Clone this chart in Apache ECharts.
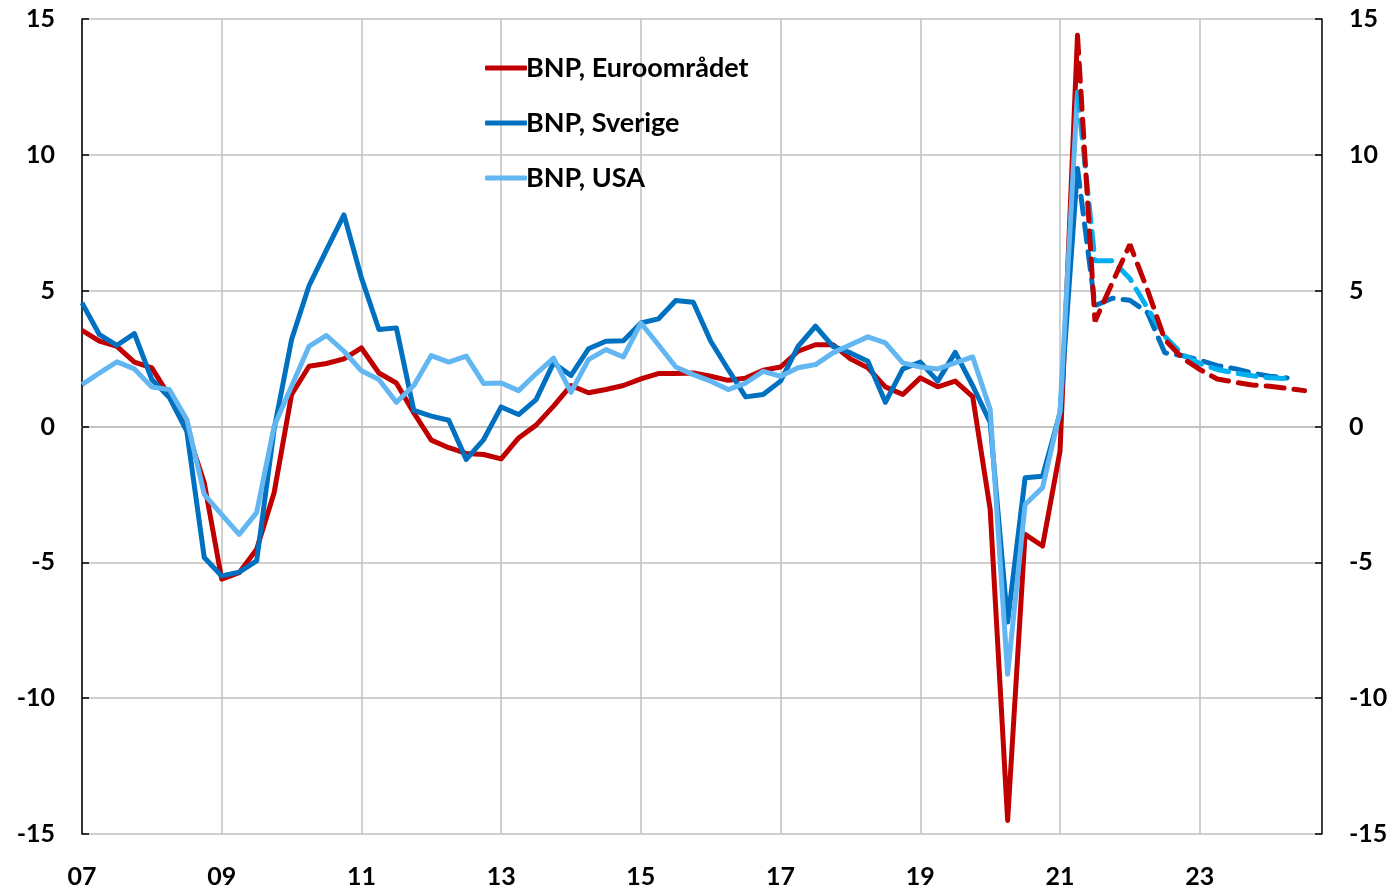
<!DOCTYPE html>
<html>
<head>
<meta charset="utf-8">
<script src="https://cdn.jsdelivr.net/npm/echarts@6/dist/echarts.min.js"></script>
<style>
  html, body { margin: 0; padding: 0; background: #ffffff; }
  #chart { width: 1396px; height: 889px; }
</style>
</head>
<body>
<div id="chart"></div>
<script>
// quarters 2007Q1 .. 2024Q4
const quarters = []
for (let y = 2007; y <= 2024; y++) {
  for (let q = 1; q <= 4; q++) quarters.push(y + 'Q' + q)
}

// outcome, 2007Q1 .. 2021Q2
const euroActual = [3.54, 3.14, 2.95, 2.37, 2.16, 1.12, -0.1, -2.07, -5.62, -5.38, -4.52, -2.44,
  1.18, 2.22, 2.32, 2.49, 2.89, 1.97, 1.6, 0.5, -0.5, -0.78, -0.99, -1.03,
  -1.19, -0.42, 0.05, 0.75, 1.51, 1.24, 1.36, 1.51, 1.75, 1.95, 1.95, 1.97,
  1.85, 1.7, 1.78, 2.07, 2.19, 2.77, 3.01, 3.01, 2.49, 2.16, 1.46, 1.18,
  1.79, 1.46, 1.67, 1.1, -3.05, -14.5, -3.97, -4.4, -0.9, 14.4]
const swedenActual = [4.55, 3.38, 2.99, 3.42, 1.73, 1.07, -0.17, -4.82, -5.5, -5.36, -4.95, -0.1,
  3.2, 5.18, 6.5, 7.79, 5.47, 3.57, 3.63, 0.59, 0.38, 0.23, -1.21, -0.48,
  0.72, 0.44, 0.99, 2.34, 1.88, 2.86, 3.14, 3.16, 3.81, 3.96, 4.64, 4.57,
  3.14, 2.1, 1.09, 1.18, 1.67, 2.95, 3.69, 2.95, 2.71, 2.4, 0.89, 2.12,
  2.37, 1.67, 2.73, 1.5, 0.15, -7.2, -1.89, -1.83, 0.5, 9.5]
const usaActual = [1.54, 1.97, 2.38, 2.12, 1.45, 1.36, 0.26, -2.5, -3.24, -3.97, -3.17, 0.01,
  1.48, 2.95, 3.35, 2.77, 2.05, 1.73, 0.89, 1.51, 2.61, 2.37, 2.59, 1.58,
  1.6, 1.32, 1.94, 2.52, 1.26, 2.46, 2.83, 2.56, 3.81, 3.01, 2.19, 1.91,
  1.67, 1.36, 1.6, 2.03, 1.85, 2.16, 2.28, 2.71, 3.01, 3.3, 3.08, 2.34,
  2.19, 2.12, 2.34, 2.56, 0.63, -9.12, -2.87, -2.25, 0.55, 12.3]

// forecast, from 2021Q2
const euroForecast = [14.4, 3.87, 5.3, 6.7, 5.04, 3.2, 2.52, 2.1, 1.75, 1.63, 1.53, 1.48, 1.4, 1.32]
const swedenForecast = [9.5, 4.45, 4.72, 4.65, 4.2, 2.71, 2.61, 2.44, 2.24, 2.13, 1.97, 1.85, 1.79]
const usaForecast = [12.3, 6.1, 6.1, 5.45, 4.36, 3.32, 2.65, 2.32, 2.1, 1.97, 1.87, 1.79, 1.76]

const forecastStart = euroActual.length - 1

const pad = (arr, offset) => {
  const out = new Array(quarters.length).fill(null)
  arr.forEach((v, i) => { out[offset + i] = v })
  return out
}

const fontFamily = 'Lato, "Open Sans", sans-serif'
const gridColor = '#C0C0C0'

const solid = (name, data, color) => ({
  name: name,
  type: 'line',
  data: pad(data, 0),
  symbol: 'none',
  lineStyle: { color: color, width: 5, join: 'round' },
  itemStyle: { color: color },
  animation: false
})

const dashed = (name, data, color) => ({
  name: name,
  type: 'line',
  data: pad(data, forecastStart),
  symbol: 'none',
  lineStyle: { color: color, width: 5, type: [18, 10], cap: 'round' },
  itemStyle: { color: color },
  animation: false
})

const yAxisBase = {
  type: 'value',
  min: -15,
  max: 15,
  interval: 5,
  axisLine: { show: true, lineStyle: { color: '#000000', width: 1.5 } },
  axisTick: { show: true, inside: true, length: 7, lineStyle: { color: '#000000', width: 1.5 } },
  axisLabel: { color: '#000000', fontSize: 25, fontWeight: 'bold', fontFamily: fontFamily, margin: 27 }
}

const chart = echarts.init(document.getElementById('chart'))
chart.setOption({
  backgroundColor: '#ffffff',
  grid: { left: 82, right: 74, top: 19, bottom: 54, containLabel: false },
  legend: {
    data: ['BNP, Euroområdet', 'BNP, Sverige', 'BNP, USA'],
    orient: 'vertical',
    left: 480,
    top: 48,
    icon: 'roundRect',
    itemWidth: 42,
    itemHeight: 5,
    itemGap: 25,
    textStyle: { color: '#000000', fontSize: 27, fontWeight: 'bold', fontFamily: fontFamily, lineHeight: 30, padding: [0, 0, 0, -6] }
  },
  xAxis: {
    type: 'category',
    data: quarters,
    boundaryGap: false,
    axisLine: { show: true, lineStyle: { color: gridColor, width: 1.5 } },
    axisTick: { show: false },
    axisLabel: {
      interval: 7,
      margin: 30,
      color: '#000000',
      fontSize: 25,
      fontWeight: 'bold',
      fontFamily: fontFamily,
      formatter: v => v.slice(2, 4)
    },
    splitLine: { show: true, interval: 7, lineStyle: { color: gridColor, width: 1.5 } }
  },
  yAxis: [
    Object.assign({}, yAxisBase, {
      position: 'left',
      splitLine: { show: true, lineStyle: { color: gridColor, width: 1.5 } }
    }),
    Object.assign({}, yAxisBase, {
      position: 'right',
      splitLine: { show: false }
    })
  ],
  series: [
    solid('BNP, Euroområdet', euroActual, '#C00000'),
    solid('BNP, Sverige', swedenActual, '#0070C0'),
    solid('BNP, USA', usaActual, '#62B6F2'),
    dashed('Prognos Sverige', swedenForecast, '#0070C0'),
    dashed('Prognos USA', usaForecast, '#00B0F0'),
    dashed('Prognos Euroområdet', euroForecast, '#C00000')
  ]
})
</script>
</body>
</html>
